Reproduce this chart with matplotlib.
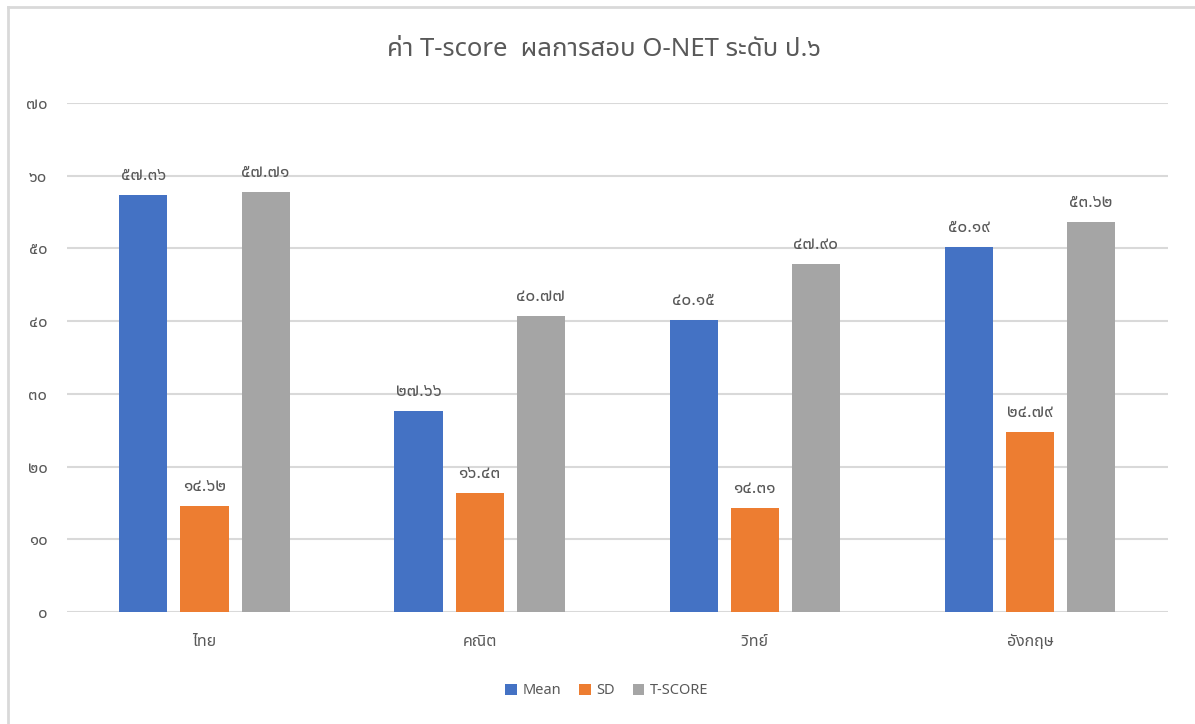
import matplotlib
matplotlib.use("Agg")
import matplotlib.pyplot as plt
import numpy as np

plt.rcParams['font.family'] = ['Noto Sans', 'Noto Sans Thai', 'DejaVu Sans']

# ข้อมูล
subjects = ['ไทย', 'คณิต', 'วิทย์', 'อังกฤษ']
mean_vals = [57.36, 27.66, 40.15, 50.19]
sd_vals = [14.62, 16.43, 14.31, 24.79]
tscore_vals = [57.71, 40.77, 47.90, 53.62]
series_names = ['Mean', 'SD', 'T-SCORE']
colors = ['#4472C4', '#ED7D31', '#A5A5A5']
yticks = [0, 10, 20, 30, 40, 50, 60, 70]

thai_digits = str.maketrans('0123456789', '๐๑๒๓๔๕๖๗๘๙')

def thai_num(v, fmt='{:.2f}'):
    return fmt.format(v).translate(thai_digits)

fig = plt.figure(figsize=(11.95, 7.24), dpi=100)
ax = fig.add_axes([0.056, 0.1547, 0.921, 0.703])

x = np.arange(len(subjects))
step = 0.222
width = 0.175
text_col = '#595959'

for i, (vals, name, col) in enumerate(zip([mean_vals, sd_vals, tscore_vals], series_names, colors)):
    pos = x + (i - 1) * step
    bars = ax.bar(pos, vals, width, color=col, label=name, zorder=3)
    for b, v in zip(bars, vals):
        ax.text(b.get_x() + b.get_width() / 2, v + 1.5, thai_num(v),
                ha='center', va='bottom', fontsize=12.5, color=text_col)

ax.set_xlim(-0.5, len(subjects) - 0.5)
ax.set_ylim(0, 70)
ax.set_yticks(yticks)
ax.set_yticklabels([thai_num(t, '{:d}') for t in yticks], fontsize=12, color=text_col)
ax.set_xticks(x)
ax.set_xticklabels(subjects, fontsize=11.5, color=text_col)
ax.tick_params(axis='both', length=0)
ax.tick_params(axis='y', pad=14)
ax.tick_params(axis='x', pad=16)
ax.grid(axis='y', color='#d9d9d9', linewidth=1.5, zorder=0)
for s in ax.spines.values():
    s.set_visible(False)

# ชื่อกราฟ (กึ่งกลางของพื้นที่กราฟทั้งหมด)
fig.text(0.505, 1 - 50 / 724, 'ค่า T-score  ผลการสอบ O-NET ระดับ ป.๖',
         ha='center', va='center', fontsize=18.5, color=text_col)

ax.legend(loc='center', bbox_to_anchor=(0.508, 1 - 691 / 724), bbox_transform=fig.transFigure,
          ncol=3, frameon=False, fontsize=10.5, labelcolor=text_col,
          handlelength=0.8, handleheight=0.8, handletextpad=0.4, columnspacing=1.2)

# กรอบด้านซ้ายและด้านบน
fig.add_artist(plt.Line2D([8 / 1195, 8 / 1195], [0, 1 - 7 / 724], color='#d9d9d9', linewidth=2))
fig.add_artist(plt.Line2D([8 / 1195, 1], [1 - 7 / 724, 1 - 7 / 724], color='#d9d9d9', linewidth=2))

fig.savefig('out.png')
